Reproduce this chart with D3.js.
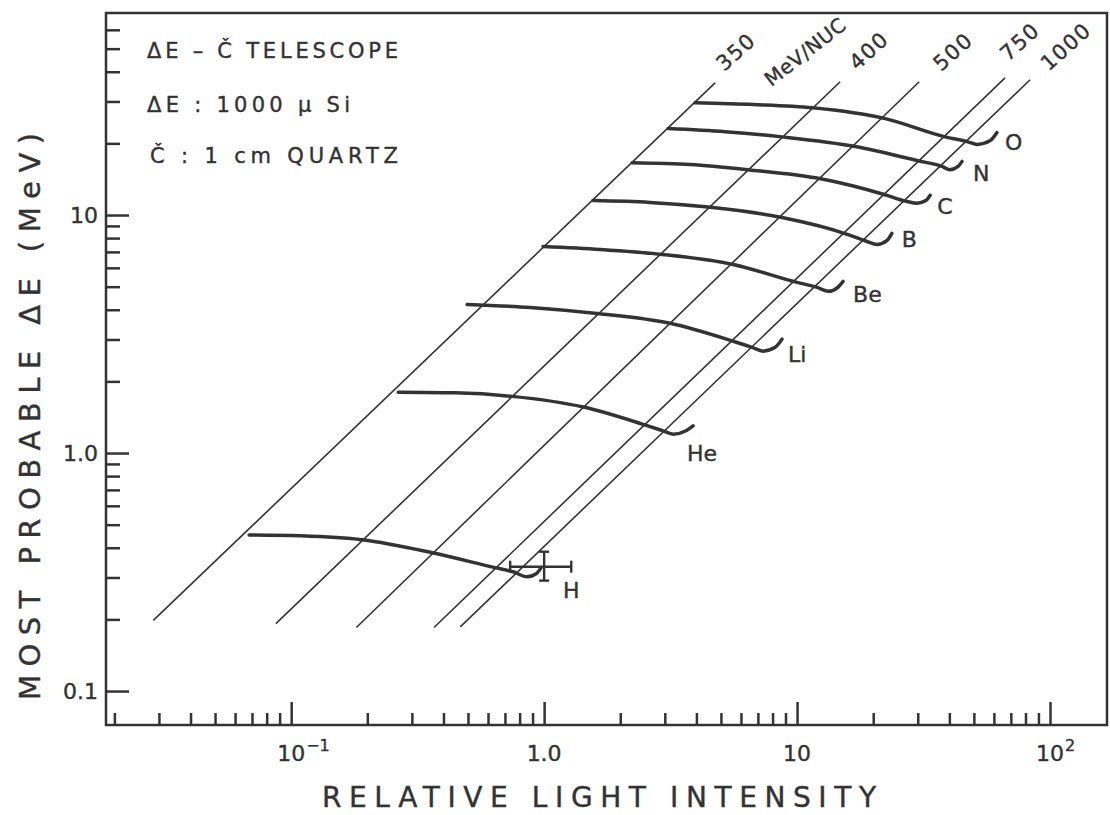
<!DOCTYPE html>
<html>
<head>
<meta charset="utf-8">
<script src="https://cdn.jsdelivr.net/npm/d3@7"></script>
<style>
  html, body { margin: 0; padding: 0; background: #fff; }
  svg { display: block; font-family: "DejaVu Sans", sans-serif; }
  .frame { fill: none; stroke: #333; stroke-width: 2.5px; }
  .tick line { stroke: #333; stroke-width: 2.5px; }
  .energy { stroke: #333; stroke-width: 1.6px; fill: none; }
  .element { stroke: #333; stroke-width: 3.5px; fill: none; stroke-linecap: round; stroke-linejoin: round; }
  .errbar { stroke: #333; stroke-width: 2.4px; fill: none; }
  text { fill: #333; stroke: #333; stroke-width: 0.4px; }
</style>
</head>
<body>
<svg id="chart" width="1110" height="815"></svg>
<script>
// axes
const xDomain = [0.01853, 168];
const yDomain = [0.072, 70.6];
const xMajor = [0.1, 1, 10, 100];
const xMajorLabels = [["10", "-1"], ["1.0", ""], ["10", ""], ["10", "2"]];
const yMajor = [0.1, 1, 10];
const yMajorLabels = ["0.1", "1.0", "10"];

// lines of constant energy per nucleon (low end / high end)
const energyLabels = ["350", "400", "500", "750", "1000"];
const energyUnit = "MeV/NUC";
const lineLowL = [0.0285, 0.087, 0.181, 0.367, 0.466];
const lineLowE = [0.198, 0.192, 0.185, 0.185, 0.186];
const lineHighL = [4.74, 14.8, 30.4, 66.4, 83.4];
const lineHighE = [35.9, 36.3, 36.3, 37.7, 37.0];

// element curves: [light intensity, most probable dE]
const elementNames = ["H", "He", "Li", "Be", "B", "C", "N", "O"];
const curveH = [[0.0682, 0.453], [0.109, 0.449], [0.191, 0.432], [0.361, 0.381], [0.640, 0.330], [0.754, 0.317], [0.857, 0.302], [0.930, 0.311], [0.973, 0.330]];
const curveHe = [[0.265, 1.80], [0.445, 1.79], [0.747, 1.73], [1.43, 1.56], [2.46, 1.32], [2.95, 1.24], [3.24, 1.20], [3.64, 1.24], [3.88, 1.30]];
const curveLi = [[0.496, 4.21], [0.880, 4.09], [1.62, 3.86], [3.15, 3.51], [5.59, 2.95], [6.64, 2.78], [7.34, 2.68], [8.19, 2.78], [8.72, 3.01]];
const curveBe = [[0.99, 7.38], [1.67, 7.17], [2.93, 6.83], [5.59, 6.20], [10.0, 5.21], [12.0, 4.97], [13.3, 4.78], [14.5, 4.97], [15.2, 5.26]];
const curveB = [[1.56, 11.5], [2.62, 11.3], [4.45, 10.8], [8.72, 9.76], [15.9, 8.28], [18.9, 7.74], [20.7, 7.52], [22.7, 7.82], [23.7, 8.37]];
const curveC = [[2.23, 16.6], [3.78, 16.3], [6.35, 15.5], [12.4, 14.2], [22.1, 12.2], [27.2, 11.4], [29.8, 11.2], [32.3, 11.5], [33.6, 12.1]];
const curveN = [[3.09, 23.1], [5.19, 22.4], [8.72, 21.3], [17.0, 19.4], [30.1, 16.9], [37.4, 16.0], [40.2, 15.5], [43.3, 16.0], [44.9, 16.8]];
const curveO = [[3.95, 29.6], [6.70, 29.1], [11.5, 28.2], [22.3, 25.4], [38.5, 21.3], [47.4, 20.3], [51.5, 19.8], [57.9, 20.5], [61.7, 22.2]];
const curves = [curveH, curveHe, curveLi, curveBe, curveB, curveC, curveN, curveO];

// hydrogen measured point with error bars
const hPointL = [0.734, 1.0, 1.28];
const hPointE = [0.291, 0.333, 0.385];

const notes = ["\u0394E \u2013 \u010C  TELESCOPE", "\u0394E : 1000 \u03BC  Si", "\u010C : 1 cm  QUARTZ"];

// label offsets (px) from line ends / curve ends
const energyLabelOffset = [[21, -31], [29, -31], [34, -30], [15, -36], [36, -33]];
const unitOffset = [90, -31];
const elementLabelOffset = [[22, 30], [-6, 35], [6, 23], [10, 21], [10, 14], [7, 19], [11, 20], [8, 17]];

const plotLeft = 106, plotRight = 1107, plotTop = 13, plotBottom = 725;
const svg = d3.select("#chart");

const x = d3.scaleLog().domain(xDomain).range([plotLeft, plotRight]);
const y = d3.scaleLog().domain(yDomain).range([plotBottom, plotTop]);

const xMinor = x.ticks().filter(v => v >= 0.0199 && v <= 100.1 && !xMajor.some(m => Math.abs(m - v) < 1e-9));
const yMinor = y.ticks().filter(v => v >= 0.1 && v <= 60.1 && !yMajor.some(m => Math.abs(m - v) < 1e-9));

// ticks (inward)
svg.append("g").attr("transform", `translate(0,${plotBottom})`)
  .call(d3.axisBottom(x).tickValues(xMinor).tickSize(-12).tickFormat(""))
  .call(g => g.select(".domain").remove());
svg.append("g").attr("transform", `translate(0,${plotBottom})`)
  .call(d3.axisBottom(x).tickValues(xMajor).tickSize(-23).tickFormat(""))
  .call(g => g.select(".domain").remove());
svg.append("g").attr("transform", `translate(${plotLeft},0)`)
  .call(d3.axisLeft(y).tickValues(yMinor).tickSize(-14).tickFormat(""))
  .call(g => g.select(".domain").remove());
const yAx = svg.append("g").attr("transform", `translate(${plotLeft},0)`)
  .call(d3.axisLeft(y).tickValues(yMajor).tickSize(-23).tickPadding(8)
    .tickFormat((d, i) => yMajorLabels[i]))
  .call(g => g.select(".domain").remove());
yAx.selectAll("text").attr("font-size", 22).attr("fill", "#333")
  .attr("font-family", "DejaVu Sans, sans-serif");

// x tick labels with superscripts
xMajor.forEach((v, i) => {
  const [base, sup] = xMajorLabels[i];
  const t = svg.append("text").attr("x", x(v)).attr("y", 761)
    .attr("text-anchor", "middle").attr("font-size", 22).text(base);
  if (sup) {
    const bb = t.node().getBBox();
    svg.append("text").attr("x", bb.x + bb.width + 1).attr("y", 751)
      .attr("font-size", 16).text(sup.replace("-", "\u2212"));
  }
});

// frame
svg.append("rect").attr("class", "frame")
  .attr("x", plotLeft).attr("y", plotTop)
  .attr("width", plotRight - plotLeft).attr("height", plotBottom - plotTop);

// energy lines
svg.append("g").selectAll("line").data(energyLabels).join("line")
  .attr("class", "energy")
  .attr("x1", (d, i) => x(lineLowL[i])).attr("y1", (d, i) => y(lineLowE[i]))
  .attr("x2", (d, i) => x(lineHighL[i])).attr("y2", (d, i) => y(lineHighE[i]));

svg.append("g").selectAll("text").data(energyLabels).join("text")
  .attr("font-size", 21).attr("letter-spacing", 1.5)
  .attr("text-anchor", "middle").attr("dominant-baseline", "central")
  .attr("transform", (d, i) => {
    const px = x(lineHighL[i]) + energyLabelOffset[i][0];
    const py = y(lineHighE[i]) + energyLabelOffset[i][1];
    return `translate(${px},${py}) rotate(-42)`;
  })
  .text(d => d);

svg.append("text")
  .attr("font-size", 20).attr("letter-spacing", 0.5)
  .attr("text-anchor", "middle").attr("dominant-baseline", "central")
  .attr("transform", `translate(${x(lineHighL[0]) + unitOffset[0]},${y(lineHighE[0]) + unitOffset[1]}) rotate(-38)`)
  .text(energyUnit);

// element curves
const line = d3.line().x(d => x(d[0])).y(d => y(d[1])).curve(d3.curveMonotoneX);
svg.append("g").selectAll("path").data(curves).join("path")
  .attr("class", "element").attr("d", line);

svg.append("g").selectAll("text").data(elementNames).join("text")
  .attr("font-size", 22)
  .attr("x", (d, i) => x(curves[i][curves[i].length - 1][0]) + elementLabelOffset[i][0])
  .attr("y", (d, i) => y(curves[i][curves[i].length - 1][1]) + elementLabelOffset[i][1])
  .text(d => d);

// H error bars
const eb = svg.append("g").attr("class", "errbar");
const cx = x(hPointL[1]), cy = y(hPointE[1]);
eb.append("line").attr("x1", x(hPointL[0])).attr("x2", x(hPointL[2])).attr("y1", cy).attr("y2", cy);
eb.append("line").attr("x1", cx).attr("x2", cx).attr("y1", y(hPointE[0])).attr("y2", y(hPointE[2]));
[hPointL[0], hPointL[2]].forEach(v => eb.append("line")
  .attr("x1", x(v)).attr("x2", x(v)).attr("y1", cy - 6).attr("y2", cy + 6));
[hPointE[0], hPointE[2]].forEach(v => eb.append("line")
  .attr("x1", cx - 5).attr("x2", cx + 5).attr("y1", y(v)).attr("y2", y(v)));

// notes
const noteX = [147, 147, 150], noteY = [58, 112, 163], noteLen = [251, 203, 248];
notes.forEach((s, i) => {
  svg.append("text").attr("x", noteX[i]).attr("y", noteY[i]).attr("font-size", 21)
    .attr("textLength", noteLen[i]).attr("lengthAdjust", "spacing").text(s);
});

// axis titles
svg.append("text").attr("x", 322).attr("y", 807).attr("font-size", 28)
  .attr("textLength", 554).attr("lengthAdjust", "spacing")
  .text("RELATIVE  LIGHT  INTENSITY");
svg.append("text").attr("transform", "translate(40,700) rotate(-90)").attr("font-size", 29)
  .attr("textLength", 567).attr("lengthAdjust", "spacing")
  .text("MOST PROBABLE \u0394E (MeV)");
</script>
</body>
</html>
